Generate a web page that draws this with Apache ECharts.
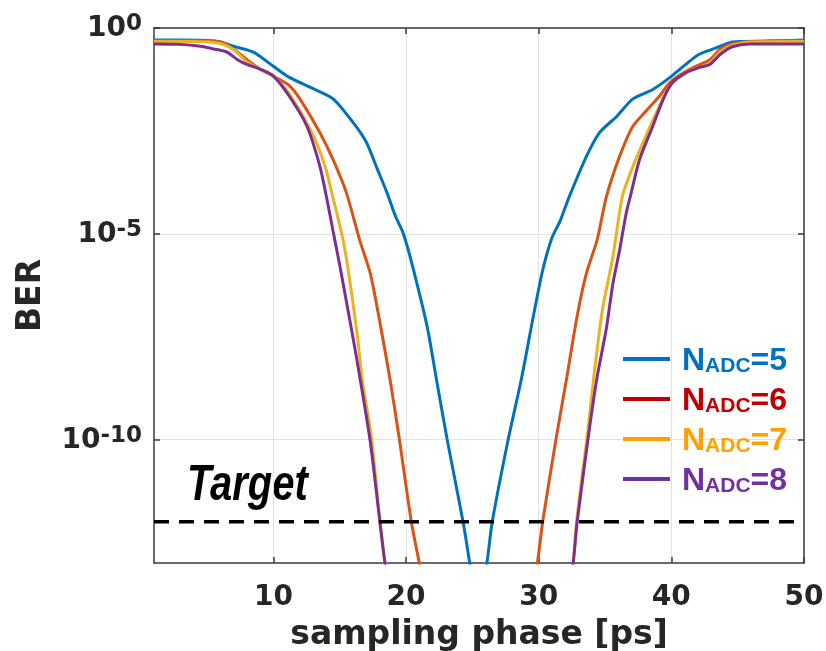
<!DOCTYPE html>
<html><head><meta charset="utf-8">
<script src="https://cdn.jsdelivr.net/npm/echarts@6/dist/echarts.min.js"></script>
<style>html,body{margin:0;padding:0;background:#fff}#c{width:826px;height:651px}</style>
</head><body><div id="c"></div>
<script>
// ---------- data ----------
const seriesNames = ['NADC=5', 'NADC=6', 'NADC=7', 'NADC=8'];
const xTicks = [10, 20, 30, 40, 50];
const yTicks = [1e-10, 1e-5, 1];
const targetBER = 1e-12;
const targetLine = [[1, targetBER], [50, targetBER]];
const targetLabel = 'Target';
const xName = 'sampling phase [ps]';
const yName = 'BER';

const ber5 = [[1,0.51],[3,0.51],[5,0.5],[6,0.46],[7,0.36],[8.5,0.26],[10,0.117],[11.2,0.063],[12.8,0.036],[14.5,0.019],[16,5.1e-3],[17,1.7e-3],[17.8,4e-4],[18.56,1e-4],[19.2,2.7e-5],[19.8,1e-5],[20.5,1.6e-6],[21.6,5.4e-8],[22.3,2.8e-9],[23.1,1e-10],[24.3,1e-12],[24.8,1e-13],[25.45,5e-15],[26.1,1e-13],[26.5,1e-12],[27.7,1e-10],[28.7,3e-9],[29.6,1e-7],[30.3,1.3e-6],[31.0,8e-6],[31.6,2e-5],[32.3,7.9e-5],[33.6,7.6e-4],[34.6,2.9e-3],[35.9,7.2e-3],[37.1,0.019],[38.6,0.032],[39.9,0.063],[40.9,0.117],[42.1,0.23],[43.7,0.36],[44.6,0.46],[47.2,0.48],[50,0.51]];
const ber6 = [[1,0.5],[4,0.5],[6,0.46],[7,0.31],[8,0.17],[9,0.1],[10,0.068],[11.2,0.04],[12,0.019],[13.5,2.9e-3],[14.5,6.3e-4],[15.5,1e-4],[16.5,7.1e-6],[17.3,1.1e-6],[18,7.9e-8],[18.8,2.8e-9],[19.5,1e-10],[20.4,1e-12],[21,1e-13],[21.6,1e-14],[29.3,1e-14],[29.9,1e-13],[30.3,1e-12],[31.3,1e-10],[32.1,3e-9],[32.9,1e-7],[33.6,1.1e-6],[34.4,7e-6],[35.1,7.9e-5],[36.1,7.6e-4],[37.1,4.1e-3],[38.2,0.0105],[39.1,0.022],[39.9,0.048],[41.4,0.1],[42.9,0.17],[43.7,0.31],[44.6,0.41],[46,0.47],[50,0.5]];
const ber7 = [[1,0.47],[4,0.47],[6,0.42],[7,0.3],[8,0.15],[9,0.1],[10,0.068],[11.2,0.025],[12.9,2.9e-3],[13.9,4.3e-4],[14.4,1e-4],[15.2,8.5e-6],[15.6,1.6e-6],[16.3,4e-8],[16.7,2.8e-9],[17.4,1.1e-10],[18.03,1e-12],[18.41,1e-13],[18.9,1e-14],[32.1,1e-14],[32.6,1e-13],[32.85,1e-12],[33.7,1.6e-10],[34.15,3.2e-9],[34.8,1.4e-7],[35.6,2.8e-6],[36.3,7.9e-5],[37.1,4.3e-4],[38.2,2.9e-3],[39.1,0.0126],[39.9,0.039],[41.2,0.085],[42.1,0.11],[42.9,0.14],[43.7,0.27],[44.6,0.38],[46,0.46],[50,0.47]];
const ber8 = [[1,0.41],[3,0.4],[4.5,0.36],[5.5,0.31],[6.5,0.26],[7.3,0.17],[8,0.13],[9,0.1],[10,0.068],[11.2,0.022],[12.53,4.1e-3],[13.51,4.3e-4],[14.04,6.8e-5],[14.49,1.2e-5],[15.02,1.6e-6],[15.62,1.4e-7],[16.3,8.5e-9],[17.28,1e-10],[18.03,1e-12],[18.41,1e-13],[18.9,1e-14],[32.1,1e-14],[32.6,1e-13],[32.9,1e-12],[33.8,1.6e-10],[34.4,3.2e-9],[35.1,5e-8],[35.6,6.3e-7],[36.1,4e-6],[36.6,3.2e-5],[36.9,7.9e-5],[37.6,6.3e-4],[38.6,4.1e-3],[39.4,0.019],[40.1,0.048],[41.2,0.085],[42.1,0.11],[42.9,0.13],[43.7,0.23],[44.6,0.35],[45.9,0.41],[50,0.41]];
const allSeries = [ber5, ber6, ber7, ber8];

// ---------- styles ----------
const lineColors = ['#0072BD', '#D95319', '#EDB120', '#7E2F8E'];
const legendColors = ['#0070C0', '#C00000', '#FFA000', '#7030A0'];
const axisColor = '#3a3a3a';
const textColor = '#262626';
const gridColor = '#e2e2e2';
const legendFont = '"Liberation Sans", Arial, sans-serif';

function legendRich(color) {
  return {
    f: {fontSize: 32, fontWeight: 'bold', fontFamily: legendFont, color: color, padding: [0, 0, 0, 7], lineHeight: 36, verticalAlign: 'bottom'},
    s: {fontSize: 21, fontWeight: 'bold', fontFamily: legendFont, color: color, lineHeight: 28, verticalAlign: 'bottom'},
    n: {fontSize: 32, fontWeight: 'bold', fontFamily: legendFont, color: color, lineHeight: 36, verticalAlign: 'bottom'}
  };
}

const chart = echarts.init(document.getElementById('c'), null, {renderer: 'canvas'});
chart.setOption({
  animation: false,
  backgroundColor: '#fff',
  grid: {left: 154, right: 22, top: 28, bottom: 88, outerBoundsMode: 'none', containLabel: false},
  xAxis: [{
    type: 'value', min: 1, max: 50, position: 'bottom',
    axisLine: {show: true, onZero: false, lineStyle: {color: axisColor, width: 1.5}},
    axisTick: {show: true, inside: true, length: 6, customValues: xTicks, lineStyle: {color: axisColor, width: 1.5}},
    axisLabel: {customValues: xTicks, margin: 21, color: textColor, fontSize: 28, fontWeight: 'bold', fontFamily: 'DejaVu Sans'},
    splitLine: {show: true, lineStyle: {color: gridColor, width: 1}},
    name: xName, nameLocation: 'middle', nameGap: 56,
    nameTextStyle: {color: textColor, fontSize: 33, fontWeight: 'bold', fontFamily: 'DejaVu Sans'}
  }, {
    type: 'value', min: 1, max: 50, position: 'top',
    axisLine: {show: true, onZero: false, lineStyle: {color: axisColor, width: 1.5}},
    axisTick: {show: true, inside: true, length: 6, customValues: xTicks, lineStyle: {color: axisColor, width: 1.5}},
    axisLabel: {show: false}, splitLine: {show: false}
  }],
  yAxis: [{
    type: 'log', logBase: 10, min: 1e-13, max: 1, position: 'left',
    axisLine: {show: true, onZero: false, lineStyle: {color: axisColor, width: 1.5}},
    axisTick: {show: true, inside: true, length: 6, customValues: yTicks, lineStyle: {color: axisColor, width: 1.5}},
    axisLabel: {
      customValues: yTicks, margin: 12,
      formatter: function (v) { return '{b|10}{sup|' + Math.round(Math.log10(v)) + '}'; },
      rich: {
        b: {fontSize: 28, fontWeight: 'bold', fontFamily: 'DejaVu Sans', color: textColor, lineHeight: 30, padding: [8, 0, 0, 0], verticalAlign: 'bottom'},
        sup: {fontSize: 23, fontWeight: 'bold', fontFamily: 'DejaVu Sans', color: textColor, lineHeight: 23, verticalAlign: 'top'}
      }
    },
    splitLine: {show: true, lineStyle: {color: gridColor, width: 1}},
    name: yName, nameLocation: 'middle', nameGap: 106,
    nameTextStyle: {color: textColor, fontSize: 33, fontWeight: 'bold', fontFamily: 'DejaVu Sans'}
  }, {
    type: 'log', logBase: 10, min: 1e-13, max: 1, position: 'right',
    axisLine: {show: true, onZero: false, lineStyle: {color: axisColor, width: 1.5}},
    axisTick: {show: true, inside: true, length: 6, customValues: yTicks, lineStyle: {color: axisColor, width: 1.5}},
    axisLabel: {show: false}, splitLine: {show: false}
  }],
  legend: {
    orient: 'vertical', left: 623, top: 345, padding: 0, itemWidth: 47, itemHeight: 4, itemGap: 8,
    icon: 'rect', selectedMode: false,
    data: seriesNames.map((n, i) => ({name: n, itemStyle: {color: legendColors[i]}, textStyle: {color: legendColors[i], rich: legendRich(legendColors[i])}})),
    formatter: function (name) { return '{f|N}{s|ADC}{n|=' + name.split('=')[1] + '}'; },
    textStyle: {fontFamily: legendFont, fontWeight: 'bold'}
  },
  graphic: [{
    type: 'text', x: 187, y: 486, scaleX: 0.8, silent: true,
    style: {text: targetLabel, fontSize: 50, fontStyle: 'italic', fontWeight: 'bold', fontFamily: 'Liberation Sans', fill: '#000', verticalAlign: 'middle', align: 'left'}
  }],
  series: allSeries.map((d, i) => ({
    name: seriesNames[i], type: 'line', data: d, showSymbol: false, symbol: 'none',
    xAxisIndex: 0, yAxisIndex: 0, clip: true, smooth: 0.25,
    lineStyle: {color: lineColors[i], width: 3}, itemStyle: {color: lineColors[i]}
  })).concat([{
    name: 'target', type: 'line', data: targetLine, showSymbol: false, symbol: 'none',
    xAxisIndex: 0, yAxisIndex: 0, silent: true, z: 5,
    lineStyle: {color: '#000', type: [15, 10], width: 3.5}
  }])
});
</script></body></html>
